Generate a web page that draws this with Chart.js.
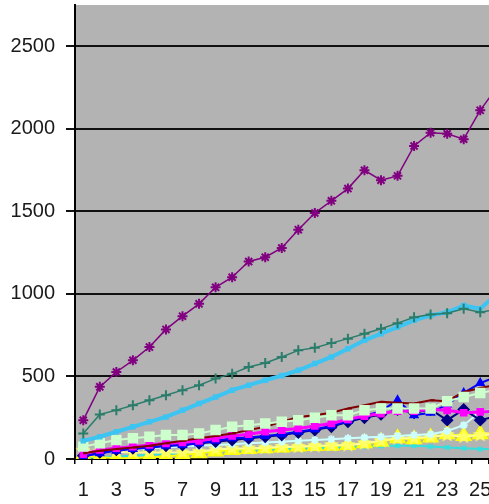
<!DOCTYPE html>
<html>
<head>
<meta charset="utf-8">
<script src="https://cdn.jsdelivr.net/npm/chart.js@4.4.1/dist/chart.umd.min.js"></script>
<style>
  html, body { margin: 0; padding: 0; background: #fff; overflow: hidden; }
  canvas { display: block; }
</style>
</head>
<body>
<canvas id="chart" width="489" height="504"></canvas>
<script>
// Categories (1..26), x window and y-axis tick values
const categories = [1, 2, 3, 4, 5, 6, 7, 8, 9, 10, 11, 12, 13, 14, 15, 16, 17, 18, 19, 20, 21, 22, 23, 24, 25, 26];
const xRange = [0.5, 25.53];
const yTickValues = [0, 500, 1000, 1500, 2000, 2500];

// Series values
const navy      = [20, 40, 55, 65, 70, 80, 85, 95, 105, 115, 125, 135, 145, 160, 175, 195, 225, 250, 270, 300, 280, 300, 235, 300, 235, 260];
const magenta   = [30, 55, 65, 75, 85, 95, 100, 110, 125, 140, 150, 165, 175, 185, 200, 215, 240, 260, 275, 290, 290, 300, 295, 280, 285, 290];
const yellow    = [20, 10, 5, 5, 10, 15, 25, 35, 45, 55, 60, 65, 70, 75, 78, 80, 85, 95, 105, 125, 120, 130, 150, 140, 150, 160];
const cyan      = [5, 10, 15, 20, 25, 30, 35, 40, 45, 50, 55, 58, 60, 62, 65, 68, 70, 75, 78, 80, 80, 75, 70, 65, 60, 60];
const purple    = [235, 437, 527, 598, 678, 785, 865, 940, 1040, 1101, 1196, 1222, 1278, 1389, 1490, 1564, 1638, 1749, 1689, 1715, 1896, 1976, 1970, 1937, 2112, 2250];
const maroon    = [35, 50, 60, 70, 80, 95, 110, 125, 140, 155, 175, 195, 225, 255, 265, 280, 306, 326, 346, 340, 336, 356, 350, 406, 430, 450];
const teal      = [155, 270, 296, 326, 356, 386, 417, 447, 487, 517, 557, 582, 618, 658, 674, 702, 729, 759, 789, 823, 859, 875, 883, 910, 889, 905];
const blue      = [15, 35, 50, 60, 70, 80, 85, 95, 110, 125, 130, 140, 150, 165, 180, 200, 230, 260, 290, 356, 265, 280, 330, 400, 460, 500];
const skyBlue   = [110, 135, 165, 195, 225, 255, 295, 336, 375, 417, 447, 477, 505, 537, 578, 618, 668, 719, 759, 799, 840, 870, 889, 930, 910, 1000];
const paleCyan  = [40, 50, 55, 60, 65, 70, 75, 80, 85, 90, 95, 100, 105, 110, 115, 120, 125, 130, 135, 140, 145, 150, 170, 205, 286, 300];
const paleGreen = [75, 95, 115, 125, 135, 145, 145, 155, 175, 195, 205, 215, 225, 235, 250, 265, 265, 296, 306, 306, 306, 306, 350, 376, 400, 420];
const paleYellow= [50, 45, 42, 40, 40, 40, 40, 44, 58, 64, 64, 68, 74, 74, 78, 84, 84, 95, 110, 125, 125, 135, 145, 135, 145, 150];

// Axis ticks: category centres (labelled every other one) plus boundaries (tick marks)
const xTicks = [];
categories.forEach(c => { xTicks.push(c - 0.5, c); });

// Filled five-point star marker
function starMarker(color, r) {
  const c = document.createElement('canvas');
  c.width = c.height = 2 * r + 2;
  const g = c.getContext('2d');
  g.fillStyle = color;
  g.beginPath();
  for (let i = 0; i < 10; i++) {
    const a = -Math.PI / 2 + i * Math.PI / 5;
    const rr = i % 2 ? r * 0.45 : r;
    g.lineTo(r + 1 + rr * Math.cos(a), r + 1 + rr * Math.sin(a));
  }
  g.closePath();
  g.fill();
  return c;
}

function series(label, values, color, style, radius, width) {
  return {
    label,
    data: values.map((v, i) => ({ x: categories[i], y: v })),
    borderColor: color,
    backgroundColor: color,
    borderWidth: width,
    pointStyle: style,
    pointRadius: radius,
    pointBorderColor: color,
    pointBackgroundColor: color,
    pointBorderWidth: 2,
    tension: 0
  };
}

// Grey plot area fill
const plotBackground = {
  id: 'plotBackground',
  beforeDraw(chart) {
    const { ctx, chartArea: a } = chart;
    ctx.save();
    ctx.fillStyle = '#b3b3b3';
    ctx.fillRect(a.left, a.top, a.right - a.left, a.bottom - a.top);
    ctx.restore();
  }
};

const font = { family: "'Liberation Sans', Arial, sans-serif", size: 20 };
const isBoundary = v => Math.abs(v - Math.round(v)) > 0.25;

new Chart(document.getElementById('chart'), {
  type: 'line',
  data: {
    datasets: [
      series('5', purple, '#800080', 'star', 5, 1.5),
      series('7', teal, '#2b7d6b', 'cross', 5, 1.5),
      series('9', skyBlue, '#3cc4f2', 'rect', 2.5, 4),
      series('11', paleGreen, '#ccffcc', 'rect', 6, 2),
      series('6', maroon, '#800000', 'dash', 4, 2),
      series('2', magenta, '#ff00ff', 'rect', 4, 3),
      series('8', blue, '#0000ff', 'triangle', 4, 2),
      series('1', navy, '#000080', 'rectRot', 5, 2),
      series('10', paleCyan, '#ccffff', 'star', 4, 2),
      series('12', paleYellow, '#ffff99', starMarker('#ffff66', 8), 8, 2),
      series('3', yellow, '#ffff00', 'triangle', 8, 2),
      series('4', cyan, '#33e0e0', 'crossRot', 3, 2)
    ]
  },
  options: {
    responsive: false,
    devicePixelRatio: 1,
    animation: false,
    layout: { autoPadding: false, padding: { top: 5, left: 0, right: 0, bottom: 0 } },
    plugins: { legend: { display: false }, tooltip: { enabled: false } },
    scales: {
      x: {
        type: 'linear',
        min: xRange[0], max: xRange[1],
        afterBuildTicks(scale) { scale.ticks = xTicks.filter(v => v <= xRange[1]).map(v => ({ value: v })); },
        grid: {
          drawOnChartArea: false, drawTicks: true, tickLength: 5, lineWidth: 1.5,
          tickColor: ctx => (ctx.tick && isBoundary(ctx.tick.value)) ? '#000' : 'rgba(0,0,0,0)'
        },
        border: { color: '#000', width: 2 },
        ticks: {
          autoSkip: false, maxRotation: 0, minRotation: 0, padding: 14,
          color: '#1a1a1a', font,
          callback: v => (!isBoundary(v) && Math.round(v) % 2 === 1) ? String(Math.round(v)) : ''
        },
        afterFit(scale) { scale.height = 45; scale.paddingLeft = 0; scale.paddingRight = 0; }
      },
      y: {
        min: 0, max: 2750,
        ticks: { stepSize: 500, padding: 11, color: '#1a1a1a', font, callback: v => String(v) },
        afterBuildTicks(scale) { scale.ticks = yTickValues.map(v => ({ value: v })); },
        grid: { color: '#111', lineWidth: 2, tickLength: 9 },
        border: { color: '#000', width: 2 },
        afterFit(scale) { scale.width = 75; scale.paddingTop = 0; scale.paddingBottom = 0; }
      }
    }
  },
  plugins: [plotBackground]
});
</script>
</body>
</html>
